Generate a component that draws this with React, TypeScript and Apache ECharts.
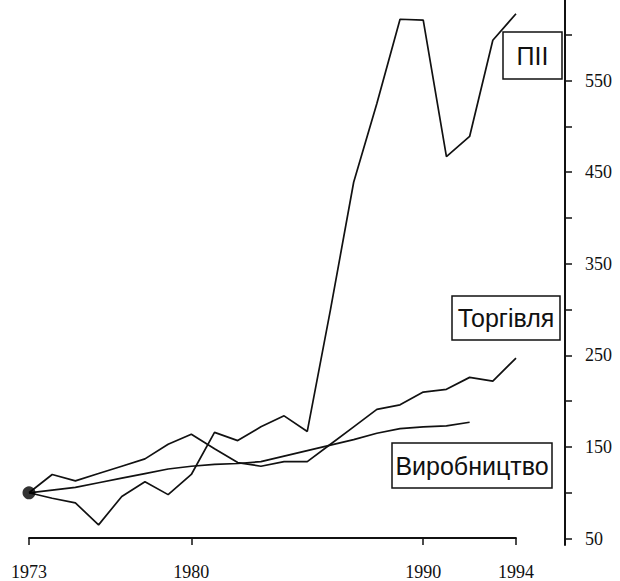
import React, { useEffect, useRef } from "react";
import * as echarts from "echarts";

const years = [1973, 1974, 1975, 1976, 1977, 1978, 1979, 1980, 1981, 1982, 1983, 1984, 1985, 1986, 1987, 1988, 1989, 1990, 1991, 1992, 1993, 1994];
const pii = [100, 94, 89, 65, 96, 112, 98, 120, 166, 157, 172, 184, 167, 300, 439, 525, 617, 616, 467, 489, 594, 623];
const trade = [100, 120, 113, 121, 129, 137, 153, 164, 148, 133, 129, 134, 134, 153, 172, 191, 196, 210, 213, 226, 222, 247];
const production = [100, 103, 106, 111, 116, 121, 126, 129, 131, 132, 134, 140, 146, 152, 158, 165, 170, 172, 173, 177];

const xTickValues = [1973, 1980, 1990, 1994];
const yTickValues = [50, 100, 150, 200, 250, 300, 350, 400, 450, 500, 550, 600];
const yLabelValues = [50, 150, 250, 350, 450, 550];

const labels = [
  { text: "ПІІ", x: 503, y: 32, w: 59, h: 47 },
  { text: "Торгівля", x: 452, y: 296, w: 108, h: 44 },
  { text: "Виробництво", x: 392, y: 443, w: 160, h: 45 },
];

const INK = "#111";

export default function App() {
  const ref = useRef<HTMLDivElement>(null);
  useEffect(() => {
    if (!ref.current) return;
    const chart = echarts.init(ref.current, null, { renderer: "svg" });
    const toPairs = (vals: number[]) => vals.map((v, i) => [years[i], v]);
    const lineSeries = (name: string, vals: number[]) => ({
      name,
      type: "line",
      data: toPairs(vals),
      symbol: "none",
      lineStyle: { color: INK, width: 1.7 },
      z: 2,
    });
    chart.setOption({
      animation: false,
      backgroundColor: "#fff",
      grid: { left: 29, right: 104, top: 0, bottom: 36, containLabel: false },
      xAxis: {
        type: "value",
        min: 1973,
        max: 1994,
        offset: -7,
        axisLine: { show: true, lineStyle: { color: INK, width: 1.8 } },
        axisTick: { show: true, customValues: xTickValues, length: 7, lineStyle: { color: INK, width: 1.5 } },
        axisLabel: {
          customValues: xTickValues,
          color: INK,
          fontFamily: "Liberation Serif",
          fontSize: 18,
          margin: 25,
          formatter: (v: number) => String(v),
        },
        splitLine: { show: false },
      },
      yAxis: {
        type: "value",
        position: "right",
        min: 43,
        max: 638,
        offset: 49,
        axisLine: { show: true, lineStyle: { color: INK, width: 2 } },
        axisTick: { show: true, customValues: yTickValues, length: 7, lineStyle: { color: INK, width: 1.5 } },
        axisLabel: {
          customValues: yLabelValues,
          color: INK,
          fontFamily: "Liberation Serif",
          fontSize: 18,
          margin: 20,
        },
        splitLine: { show: false },
      },
      series: [
        lineSeries("ПІІ", pii),
        lineSeries("Торгівля", trade),
        lineSeries("Виробництво", production),
        {
          type: "scatter",
          data: [[years[0], pii[0]]],
          symbol: "circle",
          symbolSize: 13,
          itemStyle: { color: "#000" },
          z: 3,
        },
      ],
      graphic: labels.flatMap((l) => [
        {
          type: "rect",
          shape: { x: l.x, y: l.y, width: l.w, height: l.h },
          style: { fill: "none", stroke: INK, lineWidth: 1.5 },
          z: 10,
        },
        {
          type: "text",
          x: l.x + l.w / 2,
          y: l.y + l.h / 2,
          style: {
            text: l.text,
            font: '25px "Liberation Sans"',
            fill: INK,
            align: "center",
            verticalAlign: "middle",
            textAlign: "center",
            textVerticalAlign: "middle",
          },
          z: 10,
        },
      ]),
    });
    return () => chart.dispose();
  }, []);
  return <div ref={ref} style={{ position: "fixed", left: 0, top: 0, width: 620, height: 581 }} />;
}
